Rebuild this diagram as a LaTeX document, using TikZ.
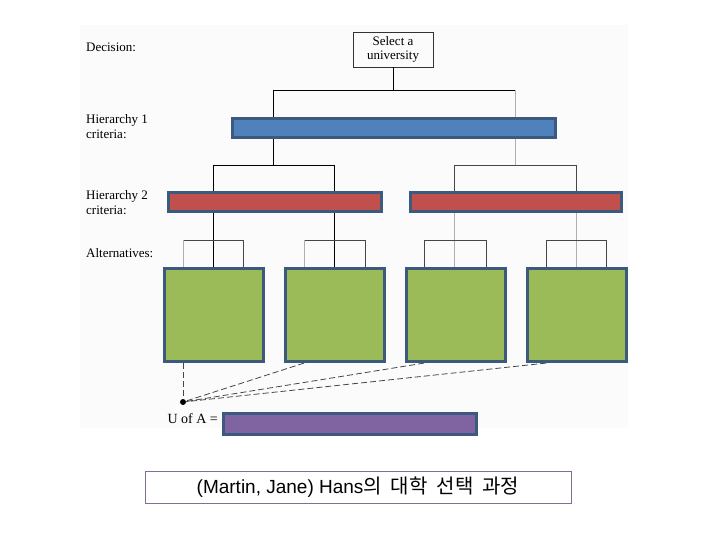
\documentclass[tikz,border=0pt]{standalone}
\usepackage{fontspec}
\setmainfont{Liberation Serif}
\newfontfamily\capfont{Liberation Sans}
\newfontfamily\krfont{Noto Sans CJK KR}
\definecolor{bord}{RGB}{60,90,125}
\definecolor{cblue}{RGB}{79,129,189}
\definecolor{cred}{RGB}{192,80,77}
\definecolor{cgreen}{RGB}{155,187,89}
\definecolor{cpurple}{RGB}{128,100,162}
\definecolor{lgray}{RGB}{175,175,175}
\definecolor{dgray}{RGB}{70,70,70}
\definecolor{capbord}{RGB}{130,110,145}
\definecolor{bgfaint}{RGB}{251,251,251}
\tikzset{
  cbox/.style={draw=bord, line width=3.2pt, inner sep=0pt},
  conn/.style={draw=black, line width=0.8pt},
  connd/.style={draw=dgray, line width=0.8pt},
  connl/.style={draw=lgray, line width=0.9pt},
  dashline/.style={draw=dgray, line width=0.8pt, dash pattern=on 6pt off 3pt},
  lbl/.style={anchor=west, align=left, inner sep=0pt, font=\fontsize{13}{15}\selectfont},
}
\begin{document}
\begin{tikzpicture}[x=1pt,y=-1pt]
\useasboundingbox (0,0) rectangle (720,540);
\fill[bgfaint] (80,25) rectangle (628,428);

% level labels
\node[lbl] (ldec) at (86,47) {Decision:};
\node[lbl] (lh1) at (86,127) {Hierarchy 1\\criteria:};
\node[lbl] (lh2) at (86,203) {Hierarchy 2\\criteria:};
\node[lbl] (lalt) at (86,253) {Alternatives:};

% boxes
\node[draw=black!80, line width=0.7pt, minimum width=80pt, minimum height=35pt, align=center, inner sep=0pt,
      font=\fontsize{13}{14}\selectfont] (dec) at (393,49.5) {Select a\\university};
\node[cbox, fill=cblue, minimum width=323pt, minimum height=19pt] (h1) at (394,128) {};
\node[cbox, fill=cred, minimum width=213pt, minimum height=19pt] (h2a) at (275,202) {};
\node[cbox, fill=cred, minimum width=211pt, minimum height=19pt] (h2b) at (516,202) {};
\node[cbox, fill=cgreen, minimum width=99pt, minimum height=93pt] (g1) at (214,315) {};
\node[cbox, fill=cgreen, minimum width=99pt, minimum height=93pt] (g2) at (335,315) {};
\node[cbox, fill=cgreen, minimum width=99pt, minimum height=93pt] (g3) at (456,315) {};
\node[cbox, fill=cgreen, minimum width=99pt, minimum height=93pt] (g4) at (577,315) {};
\node[cbox, fill=cpurple, minimum width=253pt, minimum height=21pt] (u) at (350,424) {};
\node[anchor=east, inner sep=0pt, font=\fontsize{14}{16}\selectfont] (ulab) at (218,419) {U of A =};
\node[circle, fill=black, inner sep=0pt, minimum size=6pt] (dot) at (183,402) {};

% decision -> hierarchy 1
\coordinate (b1l) at (273,90);
\coordinate (b1r) at (515,90);
\draw[conn] (dec.south) -- (dec.south |- b1l);
\draw[conn] (b1l) -- (b1r);
\draw[conn] (b1l) -- (b1l |- h1.north);
\draw[connl] (b1r) -- (b1r |- h1.north);

% hierarchy 1 -> hierarchy 2
\coordinate (c1) at (213,165);
\coordinate (c2) at (334,165);
\coordinate (c3) at (454,165);
\coordinate (c4) at (576,165);
\draw[conn] (b1l |- h1.south) -- (b1l |- c1);
\draw[connl] (b1r |- h1.south) -- (b1r |- c3);
\draw[conn] (c1) -- (c2);
\draw[connd] (c3) -- (c4);
\draw[conn] (c1) -- (c1 |- h2a.north);
\draw[conn] (c2) -- (c2 |- h2a.north);
\draw[connd] (c3) -- (c3 |- h2b.north);
\draw[connd] (c4) -- (c4 |- h2b.north);

% hierarchy 2 -> alternatives
\draw[conn] (c1 |- h2a.south) -- (c1 |- g1.north);
\draw[conn] (c2 |- h2a.south) -- (c2 |- g2.north);
\draw[connl] (c3 |- h2b.south) -- (c3 |- g3.north);
\draw[connl] (c4 |- h2b.south) -- (c4 |- g4.north);

% brackets
\coordinate (k1l) at (183,240); \coordinate (k1r) at (243,240);
\coordinate (k2l) at (304,240); \coordinate (k2r) at (365,240);
\coordinate (k3l) at (424,240); \coordinate (k3r) at (486,240);
\coordinate (k4l) at (546,240); \coordinate (k4r) at (606,240);
\draw[connd] (k1l) -- (k1r);
\draw[connl] (k1l) -- (k1l |- g1.north);
\draw[connd] (k1r) -- (k1r |- g1.north);
\draw[connd] (k2l) -- (k2r);
\draw[connl] (k2l) -- (k2l |- g2.north);
\draw[connd] (k2r) -- (k2r |- g2.north);
\draw[connd] (k3l) -- (k3r);
\draw[connd] (k3l) -- (k3l |- g3.north);
\draw[connd] (k3r) -- (k3r |- g3.north);
\draw[connd] (k4l) -- (k4r);
\draw[connd] (k4l) -- (k4l |- g4.north);
\draw[connd] (k4r) -- (k4r |- g4.north);

% dashed lines to the utility point
\draw[dashline] (dot |- g1.south) -- (dot);
\draw[dashline] (k2l |- g2.south) -- (dot);
\draw[dashline] (k3l |- g3.south) -- (dot);
\draw[dashline] (k4l |- g4.south) -- (dot);

% caption
\node[draw=capbord, line width=0.8pt, minimum width=426pt, minimum height=32pt, inner sep=0pt] (cap) at (358,487)
  {\capfont\fontsize{19}{21}\selectfont (Martin, Jane) Hans{\krfont\fontsize{20}{21}\selectfont 의\hspace{0.45em}대학\hspace{0.45em}선택\hspace{0.45em}과정}};
\end{tikzpicture}
\end{document}
